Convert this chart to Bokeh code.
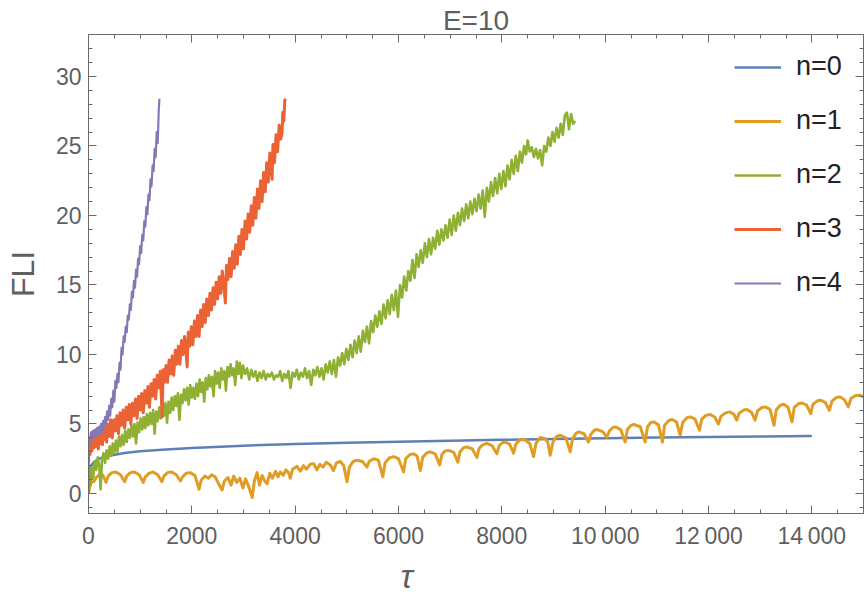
from bokeh.plotting import figure
from bokeh.models import LinearAxis, FixedTicker, Range1d, Title
from bokeh.embed import file_html
from bokeh.resources import INLINE

TITLE = "E=10"
X_LABEL = "τ"
Y_LABEL = "FLI"
SERIES_NAMES = ["n=0", "n=1", "n=2", "n=3", "n=4"]
COLORS = ["#5E81B5", "#E19C24", "#8FB032", "#EB6235", "#8778B3"]
X_OVERRIDES = {10000: "10\u2009000", 12000: "12\u2009000", 14000: "14\u2009000"}
X_MAJOR = [0, 2000, 4000, 6000, 8000, 10000, 12000, 14000]
X_MINOR = [500, 1000, 1500, 2500, 3000, 3500, 4500, 5000, 5500, 6500, 7000, 7500, 8500, 9000, 9500,
           10500, 11000, 11500, 12500, 13000, 13500, 14500, 15000]
Y_MAJOR = [0, 5, 10, 15, 20, 25, 30]
Y_MINOR = [-1, 1, 2, 3, 4, 6, 7, 8, 9, 11, 12, 13, 14, 16, 17, 18, 19, 21, 22, 23, 24, 26, 27, 28, 29,
           31, 32, 33]

# n=0 (tau, FLI)
n0_points = [(0, 0.0), (10, 1.2), (20, 1.7), (50, 2.0), (100, 2.25), (200, 2.5), (400, 2.72),
             (700, 2.92), (1000, 3.03), (1500, 3.17), (2000, 3.28), (3000, 3.44), (4000, 3.56),
             (5000, 3.65), (6000, 3.73), (7000, 3.8), (8000, 3.86), (9000, 3.92), (10000, 3.97),
             (11000, 4.02), (12000, 4.06), (13000, 4.1), (14000, 4.13)]

# n=1
n1_points = [(0, 0.0), (25, 0.5), (50, 0.8), (100, 0.85), (150, 1.15), (220, 1.4), (280, 1.3), (340, 0.8),
             (380, 1.25), (450, 1.5), (530, 1.55), (620, 1.35), (700, 0.85),
             (740, 1.25), (810, 1.5), (890, 1.55), (980, 1.35), (1060, 0.8),
             (1100, 1.2), (1170, 1.45), (1250, 1.55), (1340, 1.35), (1420, 0.85),
             (1460, 1.25), (1530, 1.5), (1610, 1.55), (1700, 1.35), (1780, 0.9),
             (1820, 1.2), (1890, 1.45), (1970, 1.5), (2060, 1.3), (2140, 0.3),
             (2180, 0.95), (2250, 1.25), (2320, 1.1), (2380, 1.35), (2450, 1.2), (2520, 0.7), (2585, 0.25),
             (2630, 0.9), (2700, 1.15), (2760, 0.6), (2810, 1.25), (2870, 0.8), (2930, 1.1), (2990, 0.4),
             (3040, 1.05), (3100, 0.5), (3170, -0.3), (3210, 0.9), (3263, 1.5), (3310, 0.6), (3360, 1.3),
             (3410, 0.9), (3456, 0.7), (3510, 1.45), (3560, 1.1), (3620, 1.6), (3670, 1.2), (3714, 1.55),
             (3770, 1.3), (3820, 1.7), (3870, 1.5), (3907, 1.1), (3950, 1.75), (4036, 1.95), (4100, 1.6),
             (4160, 2.0), (4220, 1.75), (4290, 2.1), (4358, 2.15), (4420, 1.7), (4480, 2.1), (4540, 1.9),
             (4600, 2.25), (4681, 2.05), (4740, 1.65), (4800, 2.2), (4874, 2.3), (4940, 2.0), (5003, 0.85),
             (5050, 1.9), (5120, 2.3), (5197, 2.4), (5300, 2.3), (5390, 1.9),
             (5430, 2.3), (5519, 2.5), (5610, 2.4), (5697, 1.2),
             (5740, 2.2), (5820, 2.55), (5906, 2.65), (6000, 2.5), (6098, 1.55),
             (6140, 2.5), (6220, 2.8), (6292, 2.85), (6360, 2.7), (6422, 1.65),
             (6470, 2.6), (6540, 2.9), (6615, 3.0), (6710, 2.85), (6795, 2.05),
             (6840, 2.8), (6900, 3.05), (6970, 3.1), (7070, 2.95), (7150, 2.25),
             (7190, 3.0), (7260, 3.3), (7324, 3.35), (7430, 3.2), (7517, 2.6),
             (7560, 3.25), (7630, 3.5), (7711, 3.6), (7810, 3.45), (7904, 2.85),
             (7950, 3.45), (8010, 3.65), (8066, 3.7), (8150, 3.55), (8227, 2.9),
             (8270, 3.55), (8356, 3.88), (8450, 3.85), (8540, 3.6), (8614, 2.65),
             (8660, 3.6), (8743, 4.03), (8830, 3.95), (8890, 3.7), (8936, 2.75),
             (8990, 3.7), (9060, 4.1), (9130, 4.19), (9240, 4.0), (9323, 3.0),
             (9370, 3.95), (9440, 4.35), (9490, 4.43), (9590, 4.3), (9678, 3.7),
             (9720, 4.25), (9790, 4.55), (9845, 4.6), (9950, 4.45), (10033, 4.05),
             (10080, 4.5), (10150, 4.75), (10200, 4.79), (10300, 4.6), (10387, 3.7),
             (10430, 4.6), (10500, 4.9), (10555, 4.96), (10680, 4.8), (10774, 3.7),
             (10820, 4.8), (10880, 5.1), (10940, 5.15), (11030, 4.95), (11109, 3.7),
             (11150, 4.9), (11230, 5.25), (11295, 5.32), (11380, 5.15), (11451, 4.2),
             (11500, 5.1), (11580, 5.45), (11650, 5.51), (11740, 5.35), (11825, 4.55),
             (11870, 5.35), (11950, 5.62), (12036, 5.68), (12120, 5.5), (12192, 5.0),
             (12240, 5.55), (12330, 5.8), (12420, 5.87), (12490, 5.7), (12547, 5.27),
             (12590, 5.75), (12680, 6.0), (12745, 6.04), (12830, 5.85), (12901, 5.27),
             (12950, 5.95), (13030, 6.18), (13100, 6.23), (13190, 6.05), (13269, 4.9),
             (13310, 6.0), (13390, 6.35), (13455, 6.42), (13540, 6.2), (13617, 5.15),
             (13660, 6.2), (13740, 6.45), (13810, 6.51), (13900, 6.35), (13979, 5.75),
             (14020, 6.4), (14100, 6.65), (14165, 6.71), (14260, 6.55), (14339, 5.99),
             (14390, 6.65), (14470, 6.9), (14550, 6.95), (14630, 6.75), (14706, 6.23),
             (14760, 6.85), (14850, 7.05), (14940, 7.07), (15000, 6.95)]

# n=2
n2_points = [(0, 0.2), (20, 1.5), (40, 0.6), (60, 1.9), (90, 1.1), (120, 2.3), (150, 1.7), (180, 2.6),
             (210, 1.9), (235, 0.3), (260, 2.4), (290, 2.9), (320, 2.2), (350, 3.1), (380, 2.5), (410, 3.4),
             (440, 2.7), (470, 3.6), (500, 2.9), (530, 3.8), (560, 3.0), (590, 4.1), (620, 3.4), (650, 4.2),
             (680, 3.5), (710, 4.5), (740, 3.7), (770, 4.6), (800, 4.0), (830, 4.9), (860, 4.1), (890, 5.0),
             (920, 3.6), (950, 5.1), (980, 4.4), (1010, 5.4), (1040, 4.6), (1070, 5.5), (1100, 4.7),
             (1130, 5.7), (1160, 4.9), (1190, 5.8), (1220, 5.0), (1250, 6.0), (1280, 4.3), (1310, 5.9),
             (1340, 5.2), (1370, 6.2), (1400, 5.4), (1430, 6.4), (1460, 5.6), (1490, 6.5), (1520, 5.1),
             (1550, 6.6), (1580, 5.8), (1610, 6.9), (1640, 6.0), (1670, 7.0), (1700, 6.3), (1730, 7.2),
             (1760, 5.3), (1790, 7.1), (1820, 6.5), (1850, 7.5), (1880, 6.7), (1910, 7.6), (1940, 6.4),
             (1970, 7.8), (2000, 6.9), (2030, 7.6), (2060, 6.8), (2090, 7.9), (2120, 7.0), (2150, 8.2),
             (2180, 7.3), (2210, 8.0), (2240, 6.6), (2270, 8.3), (2300, 7.5), (2330, 8.5), (2360, 7.7),
             (2390, 8.4), (2420, 7.0), (2450, 8.8), (2480, 7.9), (2510, 8.7), (2540, 7.6), (2570, 9.0),
             (2600, 8.2), (2630, 8.8), (2660, 7.4), (2690, 9.1), (2720, 8.4), (2750, 9.3), (2780, 8.5),
             (2810, 9.0), (2840, 7.8), (2870, 9.5), (2900, 8.6), (2930, 9.4), (2960, 8.3), (2990, 9.2),
             (3030, 8.6), (3070, 9.0), (3110, 8.2), (3150, 8.9), (3190, 8.4), (3230, 8.8), (3270, 8.1),
             (3310, 8.7), (3350, 8.3), (3390, 8.8), (3430, 8.2), (3470, 8.6), (3510, 8.4), (3550, 8.7),
             (3590, 8.2), (3630, 8.5), (3670, 8.4), (3710, 8.8), (3750, 8.1), (3790, 8.6), (3830, 8.3),
             (3870, 8.8), (3910, 7.6), (3950, 8.7), (3990, 8.4), (4030, 8.9), (4070, 8.2), (4110, 8.7),
             (4150, 8.4), (4190, 9.0), (4230, 8.3), (4270, 8.8), (4310, 7.8), (4350, 8.9), (4390, 8.5),
             (4430, 9.1), (4470, 8.4), (4510, 9.0), (4550, 8.2), (4590, 9.3), (4630, 8.7), (4670, 9.5),
             (4710, 8.6), (4750, 9.6), (4790, 8.4), (4830, 9.8), (4870, 9.2), (4910, 10.1), (4950, 9.3),
             (4990, 10.4), (5030, 9.6), (5070, 10.7), (5110, 9.8), (5150, 11.0), (5190, 10.1), (5230, 11.3),
             (5270, 10.2), (5310, 11.7), (5350, 10.9), (5390, 12.0), (5430, 10.8), (5470, 12.4),
             (5510, 11.6), (5550, 12.8), (5590, 12.0), (5630, 13.1), (5670, 12.2), (5710, 13.6),
             (5750, 12.6), (5790, 13.9), (5830, 12.9), (5870, 14.3), (5910, 13.2), (5950, 14.6),
             (5990, 12.7), (6030, 15.0), (6070, 14.1), (6110, 15.6), (6150, 14.6), (6190, 16.0),
             (6230, 15.3), (6270, 16.8), (6310, 15.5), (6350, 17.2), (6390, 16.3), (6430, 17.5),
             (6470, 16.6), (6510, 18.0), (6550, 17.0), (6590, 18.3), (6630, 17.2), (6670, 18.4),
             (6710, 17.6), (6750, 18.9), (6790, 17.9), (6830, 19.0), (6870, 18.2), (6910, 19.3),
             (6950, 18.4), (6990, 19.7), (7030, 18.6), (7070, 20.0), (7110, 18.9), (7150, 20.2),
             (7190, 19.3), (7230, 20.5), (7270, 19.6), (7310, 20.8), (7350, 19.8), (7390, 21.0),
             (7430, 20.1), (7470, 21.2), (7510, 20.3), (7550, 21.5), (7590, 20.5), (7630, 21.8),
             (7670, 19.9), (7710, 22.0), (7750, 21.0), (7790, 22.4), (7830, 21.4), (7870, 22.7),
             (7910, 21.6), (7950, 23.0), (7990, 21.9), (8030, 23.2), (8070, 22.1), (8110, 23.6),
             (8150, 22.6), (8190, 24.0), (8230, 23.0), (8270, 24.3), (8310, 23.2), (8350, 24.6),
             (8390, 23.8), (8430, 25.0), (8470, 24.4), (8500, 25.4), (8540, 24.6), (8580, 24.9),
             (8620, 24.2), (8660, 24.8), (8700, 24.1), (8740, 24.7), (8780, 23.6), (8820, 25.0),
             (8860, 24.6), (8900, 25.6), (8940, 25.0), (8980, 26.0), (9020, 25.3), (9060, 26.3),
             (9100, 25.6), (9140, 26.6), (9180, 25.8), (9220, 27.2), (9260, 27.4), (9300, 26.2),
             (9340, 27.3), (9380, 26.6), (9420, 26.8)]

# n=3
n3_points = [(0, 2.2), (15, 3.6), (30, 2.8), (50, 3.9), (70, 3.1), (90, 4.2), (110, 3.3), (130, 4.3),
             (150, 3.4), (170, 4.4), (190, 3.2), (210, 4.5), (230, 3.6), (250, 4.6), (270, 3.5), (290, 4.8),
             (310, 3.9), (330, 4.9), (350, 3.7), (370, 5.0), (400, 4.1), (430, 5.3), (460, 4.0), (490, 5.3),
             (520, 4.5), (550, 5.6), (580, 4.3), (610, 5.8), (640, 4.9), (670, 6.0), (700, 4.7), (730, 6.2),
             (760, 5.3), (790, 6.4), (820, 5.0), (850, 6.5), (880, 5.6), (910, 6.8), (940, 5.4), (970, 7.0),
             (1000, 6.0), (1030, 7.2), (1060, 5.8), (1090, 7.4), (1120, 6.5), (1150, 7.7), (1180, 6.2),
             (1210, 7.9), (1240, 7.0), (1270, 8.2), (1300, 6.8), (1330, 8.5), (1360, 7.6), (1390, 8.8),
             (1425, 5.5), (1445, 8.9), (1470, 8.0), (1500, 9.2), (1530, 8.0), (1560, 9.6), (1590, 8.6),
             (1620, 9.9), (1650, 8.5), (1680, 10.3), (1710, 9.3), (1740, 10.6), (1770, 9.3), (1800, 11.0),
             (1830, 10.0), (1860, 11.3), (1890, 10.0), (1910, 9.1), (1930, 11.6), (1960, 10.6), (1990, 12.0),
             (2020, 10.7), (2050, 12.4), (2080, 11.3), (2110, 12.8), (2140, 11.3), (2170, 13.2), (2200, 12.0),
             (2230, 13.6), (2260, 12.3), (2290, 14.0), (2320, 12.8), (2350, 14.4), (2380, 13.2), (2410, 14.8),
             (2440, 13.6), (2470, 15.2), (2500, 14.0), (2530, 15.6), (2560, 14.4), (2590, 16.0), (2620, 14.9),
             (2650, 13.7), (2670, 16.4), (2700, 15.4), (2730, 16.9), (2760, 15.6), (2790, 17.4), (2820, 16.2),
             (2850, 17.9), (2880, 16.5), (2910, 18.5), (2940, 17.2), (2970, 19.0), (3000, 17.6), (3030, 19.6),
             (3060, 18.3), (3090, 20.1), (3120, 18.8), (3150, 20.7), (3180, 19.3), (3210, 21.3), (3240, 19.8),
             (3270, 21.9), (3300, 20.5), (3330, 22.5), (3360, 21.0), (3390, 23.1), (3420, 21.7), (3450, 23.8),
             (3480, 22.4), (3510, 24.5), (3540, 23.2), (3553, 22.6), (3570, 25.1), (3600, 23.8), (3630, 25.8),
             (3660, 24.6), (3690, 26.5), (3720, 25.5), (3746, 25.9), (3760, 27.4), (3780, 26.8), (3800, 28.3),
             (3815, 28.4)]

# n=4
n4_points = [(0, 0.0), (8, 2.8), (16, 4.0), (30, 3.6), (45, 4.4), (60, 3.9), (80, 4.5), (100, 4.0),
             (120, 4.6), (140, 4.1), (160, 4.7), (180, 4.2), (200, 4.8), (220, 4.3), (240, 5.0), (260, 4.4),
             (280, 5.2), (300, 4.7), (320, 5.5), (340, 5.0), (360, 5.9), (380, 5.3), (400, 6.3), (420, 5.6),
             (440, 6.8), (460, 6.2), (480, 7.4), (500, 6.6), (520, 8.1), (540, 7.6), (560, 8.6), (580, 8.0),
             (600, 9.4), (620, 8.9), (640, 10.5), (660, 10.0), (680, 11.3), (700, 10.9), (720, 12.0),
             (740, 11.6), (760, 12.8), (780, 12.5), (800, 13.6), (820, 13.2), (840, 14.5), (860, 14.1),
             (880, 15.3), (900, 14.8), (920, 16.1), (940, 15.6), (960, 16.9), (980, 16.5), (1000, 17.8),
             (1020, 17.3), (1040, 18.6), (1060, 18.2), (1080, 19.6), (1100, 19.2), (1120, 20.6),
             (1140, 20.1), (1160, 21.5), (1180, 21.1), (1200, 22.6), (1220, 22.1), (1240, 23.6),
             (1260, 23.2), (1280, 24.8), (1300, 24.2), (1320, 26.0), (1340, 25.2), (1360, 27.6),
             (1373, 28.4)]

SERIES = [n0_points, n1_points, n2_points, n3_points, n4_points]
WIDTHS = [2.5, 3.0, 2.6, 3.0, 2.2]

FONT = "Liberation Sans"
TEXT_COLOR = "#5f5f5f"
FRAME_COLOR = "#6a6a6a"

p = figure(width=864, height=601, output_backend="svg", toolbar_location=None,
           x_range=Range1d(0, 15000), y_range=Range1d(-1.44, 33.02),
           min_border_left=88, min_border_right=1, min_border_top=34, min_border_bottom=88)
p.outline_line_color = None
p.grid.visible = False
p.background_fill_color = "white"


def style_axis(ax, tick_len_major, tick_len_minor, line=True):
    ax.axis_line_color = FRAME_COLOR if line else None
    ax.axis_line_width = 1
    ax.major_tick_line_color = FRAME_COLOR
    ax.minor_tick_line_color = FRAME_COLOR
    ax.major_tick_in = tick_len_major
    ax.major_tick_out = 0
    ax.minor_tick_in = tick_len_minor
    ax.minor_tick_out = 0
    ax.major_label_text_font = FONT
    ax.major_label_text_color = TEXT_COLOR
    ax.major_label_text_font_size = "23px"


xax = p.xaxis[0]
xax.ticker = FixedTicker(ticks=X_MAJOR, minor_ticks=X_MINOR)
style_axis(xax, 8, 4)
xax.major_label_standoff = 9
xax.major_label_overrides = X_OVERRIDES

yax = p.yaxis[0]
yax.ticker = FixedTicker(ticks=Y_MAJOR, minor_ticks=Y_MINOR)
style_axis(yax, 8, 4)
yax.major_label_standoff = 7
yax.axis_label = Y_LABEL
yax.axis_label_text_font = FONT
yax.axis_label_text_font_size = "32px"
yax.axis_label_text_font_style = "normal"
yax.axis_label_text_color = TEXT_COLOR
yax.axis_label_standoff = 12

# frame ticks without labels on top and right (minor-only tickers carry no labels)
for side, majors, minors in (("above", X_MAJOR, X_MINOR), ("right", Y_MAJOR, Y_MINOR)):
    a1 = LinearAxis(ticker=FixedTicker(ticks=[], minor_ticks=minors))
    style_axis(a1, 8, 4)
    a1.major_label_standoff = 0
    p.add_layout(a1, side)
    a2 = LinearAxis(ticker=FixedTicker(ticks=[], minor_ticks=majors))
    style_axis(a2, 8, 8, line=False)
    a2.major_label_standoff = 0
    p.add_layout(a2, side)

for pts, name, col, w in zip(SERIES, SERIES_NAMES, COLORS, WIDTHS):
    xs = [a for a, b in pts]
    ys = [b for a, b in pts]
    p.line(xs, ys, line_color=col, line_width=w, line_join="round", legend_label=name)

lg = p.legend[0]
lg.location = "top_right"
lg.border_line_color = None
lg.background_fill_alpha = 0
lg.label_text_font = FONT
lg.label_text_font_size = "27px"
lg.label_text_color = "#222222"
lg.glyph_width = 47
lg.glyph_height = 30
lg.label_height = 30
lg.label_width = 50
lg.label_standoff = 15
lg.spacing = 23
lg.padding = 0
lg.margin = 17

p.title.text = TITLE
p.title.align = "center"
p.title.text_font = FONT
p.title.text_font_size = "28px"
p.title.text_font_style = "normal"
p.title.text_color = TEXT_COLOR
p.title.standoff = -3

p.add_layout(Title(text=X_LABEL, align="left", offset=312, standoff=8, text_font=FONT,
                   text_font_size="33px", text_font_style="italic", text_color=TEXT_COLOR), "below")

open("out.html", "w").write(file_html(p, INLINE))
